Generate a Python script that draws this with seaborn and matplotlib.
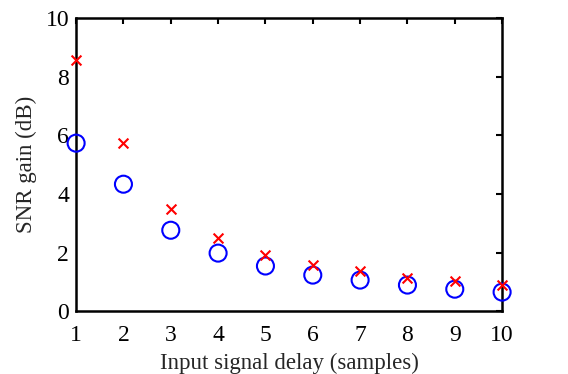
import numpy as np
import matplotlib.pyplot as plt
import pandas as pd
import matplotlib as mpl
import seaborn as sns

# Values
delay = [1, 2, 3, 4, 5, 6, 7, 8, 9, 10]
gain_cross = [8.57, 5.73, 3.50, 2.49, 1.91, 1.57, 1.36, 1.13, 1.02, 0.89]
gain_circle = [5.73, 4.33, 2.76, 1.98, 1.54, 1.23, 1.06, 0.89, 0.75, 0.65]
xticks = list(range(1, 11))
yticks = [0, 2, 4, 6, 8, 10]

sns.set_style('white')
plt.rcParams['font.family'] = ['Liberation Serif', 'DejaVu Serif']
mpl.rc('xtick', direction='in', top=True, labelsize=17)
mpl.rc('ytick', direction='in', right=True, labelsize=17)
mpl.rc('axes', labelsize=16.5, linewidth=1.8)

df = pd.DataFrame({'delay': delay, 'cross': gain_cross, 'circle': gain_circle})

fig = plt.figure(figsize=(5.68, 3.74), dpi=100)
ax = fig.add_axes([0.134, 0.168, 0.750, 0.784])

sns.scatterplot(data=df, x='delay', y='circle', marker='o', s=150,
                facecolor='none', edgecolor='blue', linewidth=1.5,
                clip_on=False, zorder=3, ax=ax)
sns.scatterplot(data=df, x='delay', y='cross', marker='x', s=50,
                color='red', linewidth=1.5, clip_on=False, zorder=4, ax=ax)

ax.set_xlim(1, 10)
ax.set_ylim(0, 10)
ax.set_xticks(xticks)
ax.set_yticks(yticks)
ax.tick_params(length=4, width=1.5, colors='black')
ax.tick_params(axis='x', pad=10)
ax.tick_params(axis='y', pad=5)
for s in ax.spines.values():
    s.set_visible(True)
    s.set_color('black')
ax.set_xlabel('Input signal delay (samples)', labelpad=5)
ax.set_ylabel('SNR gain (dB)', labelpad=6)

fig.savefig('out.png', dpi=100)
